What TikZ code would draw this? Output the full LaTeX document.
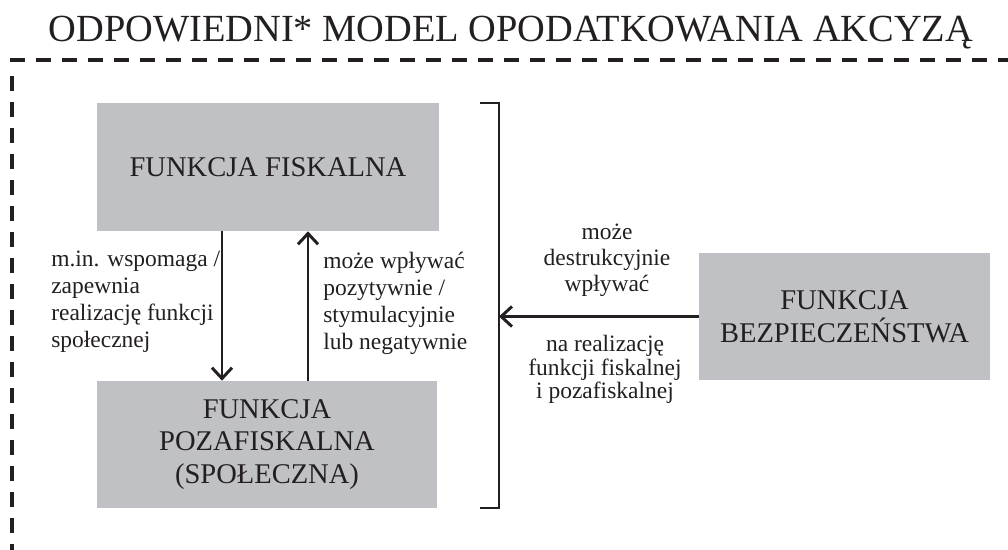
\documentclass[tikz,border=0pt]{standalone}
\usepackage{fontspec}
\setmainfont{Liberation Serif}
\usetikzlibrary{arrows.meta}
\definecolor{boxgray}{RGB}{192,193,196}
\definecolor{ink}{RGB}{35,31,32}
\tikzset{
  funkcja/.style={fill=boxgray, inner sep=0pt, align=center, text=ink,
    font=\fontsize{20.3}{23.2}\selectfont},
  opis/.style={inner sep=0pt, text=ink, font=\fontsize{16.7}{19.2}\selectfont},
  strz/.style={line width=2.1pt, draw=ink, -{Straight Barb[length=0.27cm,width=0.5cm]}},
  ramka/.style={line width=2.8pt, draw=ink, dash pattern=on 0.375cm off 0.275cm},
}
\begin{document}
\begin{tikzpicture}[x=0.025cm,y=-0.025cm]
\useasboundingbox (0,0) rectangle (1008,550);
\node[text=ink, font=\fontsize{27.3}{30}\selectfont, anchor=base] (tytul) at (511,42)
  {ODPOWIEDNI* MODEL OPODATKOWANIA AKCYZĄ};
\draw[ramka] (10,60) -- (1008,60);
\draw[ramka] (12,76) -- (12,550);
% funkcje
\node[funkcja, minimum width=8.55cm, minimum height=3.2cm] (fisk) at (268,167) {FUNKCJA FISKALNA};
\node[funkcja, minimum width=8.5cm, minimum height=3.175cm] (pozafisk) at (267,444.5)
  {FUNKCJA\\POZAFISKALNA\\(SPOŁECZNA)};
\node[funkcja, minimum width=7.275cm, minimum height=3.175cm] (bezp) at (844.5,316.5)
  {FUNKCJA\\BEZPIECZEŃSTWA};
% nawias
\draw[line width=2.1pt, draw=ink] (480,103) -- (499,103) -- (499,508) -- (480,508);
\coordinate (nawias) at (499,316.5);
\draw[strz] (fisk.south -| 222,0) -- (pozafisk.north -| 222,0);
\draw[strz] (pozafisk.north -| 308,0) -- (fisk.south -| 308,0);
\draw[strz] (bezp.west) -- (bezp.west -| nawias);
% opisy
\node[opis, align=left, anchor=west] (wspomaga) at (51,302)
  {m.in. wspomaga /\\zapewnia\\realizację funkcji\\społecznej};
\node[opis, align=left, anchor=west] (wplywa) at (323,303.5)
  {może wpływać\\pozytywnie /\\stymulacyjnie\\lub negatywnie};
\node[opis, align=center, font=\fontsize{16.7}{18.5}\selectfont] (destr) at (607,260.5)
  {może\\destrukcyjnie\\wpływać};
\node[opis, align=center, font=\fontsize{16.7}{16.7}\selectfont] (realiz) at (605,369.5)
  {na realizację\\funkcji fiskalnej\\i pozafiskalnej};
\end{tikzpicture}
\end{document}
